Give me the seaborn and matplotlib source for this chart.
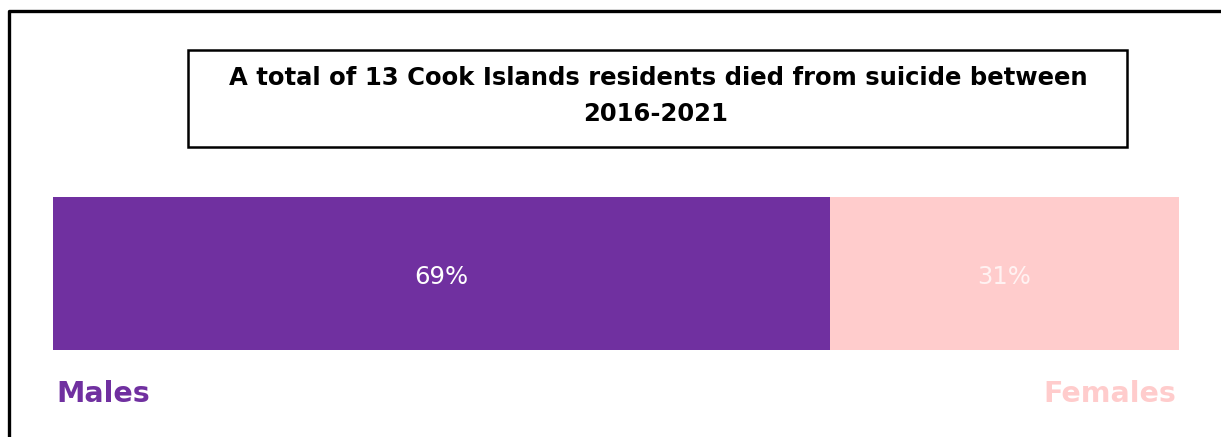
import matplotlib
matplotlib.use("Agg")
import matplotlib.pyplot as plt
import seaborn as sns
import pandas as pd
from matplotlib.patches import Rectangle
from matplotlib.lines import Line2D

# Share of suicide deaths by sex, Cook Islands 2016-2021
groups = ["Males", "Females"]
shares = [69, 31]
bar_colors = ["#7030A0", "#FFCCCC"]
share_label_colors = ["#FFFFFF", "#FFF2F2"]
title_lines = [
    "A total of 13 Cook Islands residents died from suicide between",
    "2016-2021",
]

W, H = 1221, 437
fig = plt.figure(figsize=(W / 100, H / 100), dpi=100)
fig.patch.set_facecolor("white")


def fx(px):
    return px / W


def fy(py):
    return 1 - py / H


# Stacked bar: each segment ends at the running total of the shares
ends = []
total = 0
for s in shares:
    total += s
    ends.append(total)
starts = [e - s for e, s in zip(ends, shares)]

df = pd.DataFrame({"group": groups, "end": ends, "row": ["all"] * len(groups)})
palette = dict(zip(groups, bar_colors))

ax = fig.add_axes([fx(53), fy(350), fx(1179) - fx(53), (350 - 197) / H])
sns.barplot(
    data=df,
    x="end",
    y="row",
    hue="group",
    hue_order=groups[::-1],
    palette=palette,
    saturation=1,
    dodge=False,
    width=1.0,
    linewidth=0,
    legend=False,
    orient="h",
    ax=ax,
)
ax.set_xlim(0, total)
ax.set_ylim(0.5, -0.5)
ax.axis("off")

for st, s, c in zip(starts, shares, share_label_colors):
    ax.text(st + s / 2, 0.02, f"{s}%", ha="center", va="center",
            color=c, fontsize=17.5, family="DejaVu Sans")

# Group names under the bar
fig.text(fx(56), fy(394), groups[0], ha="left", va="center",
         color=bar_colors[0], fontsize=20.5, fontweight="bold", family="DejaVu Sans")
fig.text(fx(1176), fy(394), groups[1], ha="right", va="center",
         color=bar_colors[1], fontsize=20.5, fontweight="bold", family="DejaVu Sans")

# Title box
fig.add_artist(Rectangle((fx(188), fy(147)), fx(1127) - fx(188), (147 - 50) / H,
                         transform=fig.transFigure, fill=False,
                         edgecolor="black", linewidth=1.8))
fig.text(fx(658), fy(78), title_lines[0], ha="center", va="center",
         fontsize=17.5, fontweight="bold", family="DejaVu Sans", color="black")
fig.text(fx(656), fy(114), title_lines[1], ha="center", va="center",
         fontsize=17.5, fontweight="bold", family="DejaVu Sans", color="black")

# Outer frame (open towards the right and bottom edges)
fig.add_artist(Line2D([fx(9), fx(9), 1.0], [0.0, fy(11), fy(11)],
                      transform=fig.transFigure, color="black", linewidth=2.4))

fig.savefig("out.png", dpi=100, facecolor="white")
